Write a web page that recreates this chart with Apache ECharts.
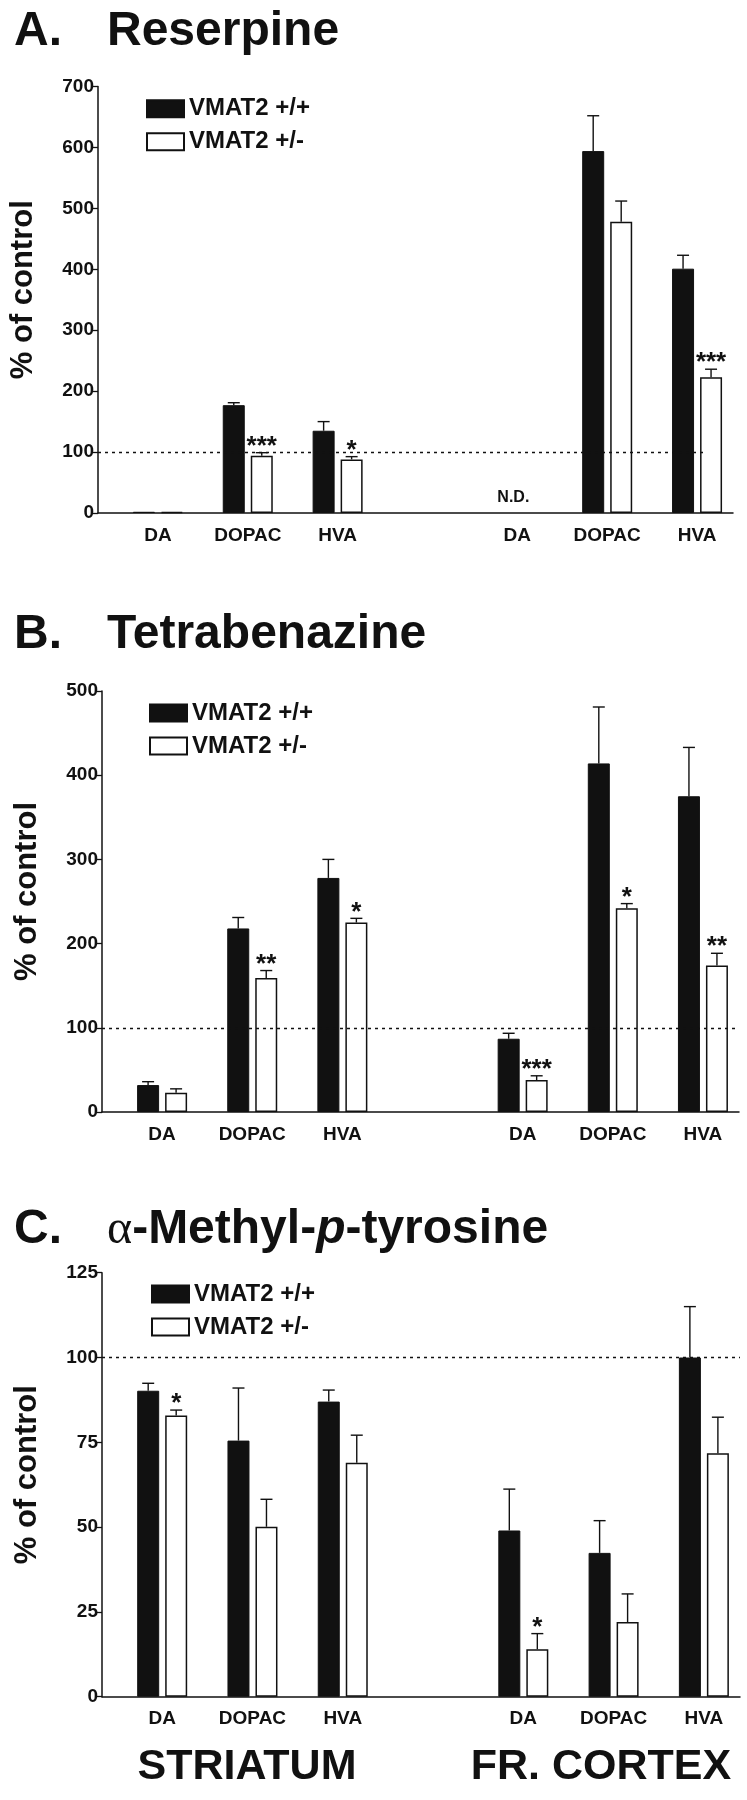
<!DOCTYPE html>
<html><head><meta charset="utf-8">
<script src="https://cdn.jsdelivr.net/npm/echarts@6/dist/echarts.min.js"></script>
<style>html,body{margin:0;padding:0;background:#fff}#c{width:747px;height:1800px}</style>
</head><body><div id="c"></div>
<script>
// ---- data ----
const catPos = [1, 2, 3, 5, 6, 7];
const catNames = ['DA', 'DOPAC', 'HVA', 'DA', 'DOPAC', 'HVA'];
const seriesNames = ['VMAT2 +/+', 'VMAT2 +/-'];
const regionNames = ['STRIATUM', 'FR. CORTEX'];

// A. Reserpine
const resWt = [2, 177, 135, null, 594, 401];
const resWtSem = [0, 4, 15, null, 58, 22];
const resHet = [2, 94, 88, null, 478, 223];
const resHetSem = [0, 5, 4.5, null, 34, 13];
const resStars = ['', '***', '*', '', '', '***'];
const resNotes = ['', '', '', 'N.D.', '', ''];
const resTicks = [0, 700, 100];

// B. Tetrabenazine
const tbzWt = [32, 218, 278, 87, 414, 375];
const tbzWtSem = [4, 13, 22, 6.5, 67, 58];
const tbzHet = [23, 159, 225, 38, 242, 174];
const tbzHetSem = [4.5, 9, 5, 5, 5.5, 14.5];
const tbzStars = ['', '**', '*', '***', '*', '**'];
const tbzNotes = ['', '', '', '', '', ''];
const tbzTicks = [0, 500, 100];

// C. alpha-Methyl-p-tyrosine
const amptWt = [90.2, 75.5, 87, 49, 42.4, 100];
const amptWtSem = [2.2, 15.5, 3.4, 12.2, 9.5, 15];
const amptHet = [82.9, 50.1, 69, 14, 22, 71.8];
const amptHetSem = [1.6, 8.1, 8.1, 4.6, 8.3, 10.6];
const amptStars = ['*', '', '', '*', '', ''];
const amptNotes = ['', '', '', '', '', ''];
const amptTicks = [0, 125, 25];

const controlLevel = 100;

// ---- layout / style ----
const FONT = '"Liberation Sans", Arial, Helvetica, sans-serif';
const INK = '#111';
const BAR_W = 22, BAR_GAP = 6;
const OFF = (BAR_W + BAR_GAP) / 2;
const X_MIN = 1 / 3, X_MAX = 7.4;

const panels = [
  { title: '{l|A.}{t|Reserpine}', titleTop: 7.5,
    grid: { left: 97, top: 86.5, width: 636, height: 426.5 },
    legend: { left: 146, top: 96.7 },
    wt: resWt, wtSem: resWtSem, het: resHet, hetSem: resHetSem, stars: resStars, notes: resNotes, ticks: resTicks,
    refEnd: 7.11 },
  { title: '{l|B.}{t|Tetrabenazine}', titleTop: 611,
    grid: { left: 102, top: 691, width: 637, height: 421 },
    legend: { left: 149, top: 701 },
    wt: tbzWt, wtSem: tbzWtSem, het: tbzHet, hetSem: tbzHetSem, stars: tbzStars, notes: tbzNotes, ticks: tbzTicks,
    refEnd: null },
  { title: '{l|C.}{g|α}{t|-Methyl-}{i|p}{t|-tyrosine}', titleTop: 1206,
    grid: { left: 102, top: 1272.7, width: 638, height: 424 },
    legend: { left: 151, top: 1282 },
    wt: amptWt, wtSem: amptWtSem, het: amptHet, hetSem: amptHetSem, stars: amptStars, notes: amptNotes, ticks: amptTicks,
    refEnd: null }
];

const titleRich = {
  l: { fontFamily: FONT, fontWeight: 'bold', fontSize: 48, color: INK, width: 93 },
  t: { fontFamily: FONT, fontWeight: 'bold', fontSize: 48, color: INK },
  g: { fontFamily: '"Liberation Serif", "Times New Roman", serif', fontWeight: 'normal', fontSize: 48, color: INK },
  i: { fontFamily: FONT, fontWeight: 'bold', fontStyle: 'italic', fontSize: 48, color: INK }
};

function barData(vals) {
  return catPos.map((p, i) => [p, vals[i]]).filter(d => d[1] != null);
}

function errSeries(gi, means, sems, stars, side, refEnd) {
  const items = [];
  catPos.forEach((p, i) => {
    if (means[i] != null) items.push({ x: p, m: means[i], s: sems[i] || 0, star: stars ? stars[i] : '' });
  });
  const s = {
    type: 'custom', xAxisIndex: gi, yAxisIndex: gi, z: 5, silent: true,
    data: items.map(it => [it.x, it.m + it.s]),
    encode: { x: 0, y: 1 },
    renderItem(params, api) {
      const it = items[params.dataIndex];
      const base = api.coord([it.x, it.m]);
      const top = api.coord([it.x, it.m + it.s]);
      const cx = base[0] + side * OFF;
      const children = [];
      if (it.s > 0) {
        children.push({ type: 'line', shape: { x1: cx, y1: base[1], x2: cx, y2: top[1] }, style: { stroke: INK, lineWidth: 1.4 } });
        children.push({ type: 'line', shape: { x1: cx - 6, y1: top[1], x2: cx + 6, y2: top[1] }, style: { stroke: INK, lineWidth: 1.4 } });
      }
      if (it.star) {
        children.push({ type: 'text', style: { text: it.star, x: cx, y: top[1] - 6, align: 'center', verticalAlign: 'middle',
          font: 'bold 26px ' + FONT, fill: INK } });
      }
      return { type: 'group', children };
    }
  };
  if (side > 0) {
    const ml = { silent: true, symbol: 'none', label: { show: false },
      lineStyle: { color: INK, type: [3, 4], width: 1.3 }, animation: false };
    if (refEnd != null) ml.data = [[{ coord: [X_MIN, controlLevel] }, { coord: [refEnd, controlLevel] }]];
    else ml.data = [{ yAxis: controlLevel }];
    s.markLine = ml;
  }
  return s;
}

function noteSeries(gi, notes) {
  const items = [];
  catPos.forEach((p, i) => { if (notes[i]) items.push({ x: p, t: notes[i] }); });
  return {
    type: 'custom', xAxisIndex: gi, yAxisIndex: gi, z: 6, silent: true,
    data: items.map(it => [it.x, 0]),
    encode: { x: 0, y: 1 },
    renderItem(params, api) {
      const it = items[params.dataIndex];
      const c = api.coord([it.x, 0]);
      return { type: 'text', style: { text: it.t, x: c[0] - 4, y: c[1] - 15, align: 'center', verticalAlign: 'middle',
        font: 'bold 16px ' + FONT, fill: INK } };
    }
  };
}

const option = {
  backgroundColor: '#fff',
  animation: false,
  title: panels.map(p => ({ text: p.title, left: 14, top: p.titleTop, padding: 0, textStyle: { rich: titleRich } })),
  legend: panels.map(p => ({
    data: seriesNames, orient: 'vertical', left: p.legend.left, top: p.legend.top, padding: 0,
    itemWidth: 37, itemHeight: 17, itemGap: 9, icon: 'rect', selectedMode: false,
    textStyle: { fontFamily: FONT, fontWeight: 'bold', fontSize: 24, color: INK, lineHeight: 24 }
  })),
  grid: panels.map(p => Object.assign({ containLabel: false }, p.grid)),
  xAxis: panels.map((p, gi) => ({
    type: 'value', gridIndex: gi, min: X_MIN, max: X_MAX,
    axisLine: { show: true, onZero: true, lineStyle: { color: INK, width: 1.5 } },
    axisTick: { show: false }, splitLine: { show: false },
    axisLabel: { customValues: catPos, formatter: v => catNames[catPos.indexOf(v)] || '',
      fontFamily: FONT, fontWeight: 'bold', fontSize: 19, color: INK, margin: 13 }
  })),
  yAxis: panels.map((p, gi) => ({
    type: 'value', gridIndex: gi, min: p.ticks[0], max: p.ticks[1], interval: p.ticks[2],
    name: '% of control', nameLocation: 'middle', nameRotate: 90, nameGap: 59,
    nameTextStyle: { fontFamily: FONT, fontWeight: 'bold', fontSize: 31, color: INK, padding: [0, 0, 0, 20] },
    axisLine: { show: true, lineStyle: { color: INK, width: 1.5 } },
    axisTick: { show: true, length: 7, lineStyle: { color: INK, width: 1.3 } },
    splitLine: { show: false },
    axisLabel: { fontFamily: FONT, fontWeight: 'bold', fontSize: 19, color: INK, margin: 4 }
  })),
  graphic: [
    { type: 'text', silent: true, style: { text: regionNames[0], x: 247, y: 1767, align: 'center', verticalAlign: 'middle', font: 'bold 43px ' + FONT, fill: INK } },
    { type: 'text', silent: true, style: { text: regionNames[1], x: 601, y: 1767, align: 'center', verticalAlign: 'middle', font: 'bold 43px ' + FONT, fill: INK } }
  ],
  series: []
};

panels.forEach((p, gi) => {
  option.series.push({
    name: seriesNames[0], type: 'bar', xAxisIndex: gi, yAxisIndex: gi, barWidth: BAR_W, barGap: (BAR_GAP / BAR_W * 100) + '%',
    itemStyle: { color: INK, borderColor: INK, borderWidth: 1 }, data: barData(p.wt), z: 2
  });
  option.series.push({
    name: seriesNames[1], type: 'bar', xAxisIndex: gi, yAxisIndex: gi, barWidth: BAR_W, barGap: (BAR_GAP / BAR_W * 100) + '%',
    itemStyle: { color: '#fff', borderColor: INK, borderWidth: 1.5 }, data: barData(p.het), z: 2
  });
  option.series.push(errSeries(gi, p.wt, p.wtSem, null, -1, p.refEnd));
  option.series.push(errSeries(gi, p.het, p.hetSem, p.stars, 1, p.refEnd));
  option.series.push(noteSeries(gi, p.notes));
});

const chart = echarts.init(document.getElementById('c'), null, { renderer: 'canvas' });
chart.setOption(option);
</script>
</body></html>
